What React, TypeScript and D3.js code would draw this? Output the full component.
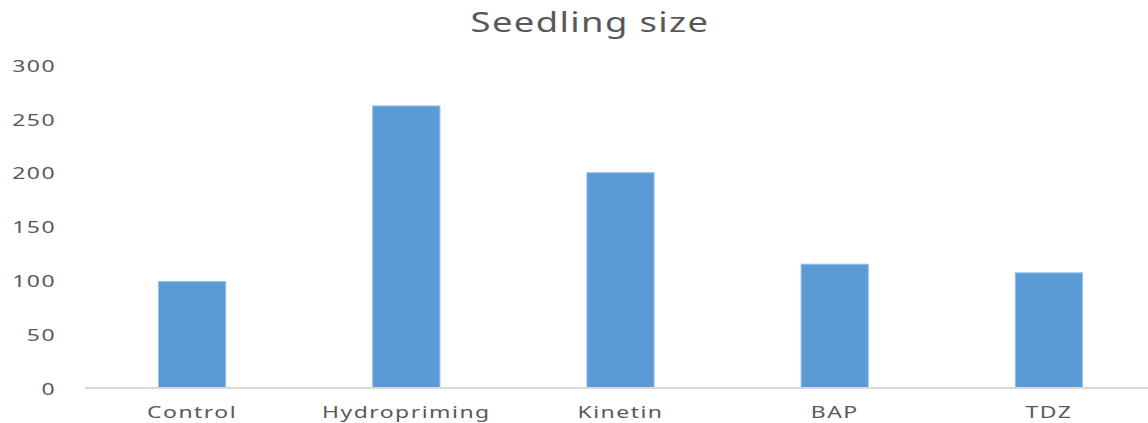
import React from "react";
import * as d3 from "d3";

const categories = ["Control", "Hydropriming", "Kinetin", "BAP", "TDZ"];
const values = [99, 262, 200, 115, 107];
const yTicks = [0, 50, 100, 150, 200, 250, 300];
const title = "Seedling size";

const W = 1148;
const H = 423;
const FONT = "'Noto Sans', sans-serif";
const TEXT = "#595959";
const STRETCH = 1.35;

export default function App() {
  const x = d3
    .scaleBand<string>()
    .domain(categories)
    .range([85, 1156])
    .paddingInner(0.686)
    .paddingOuter(0.343);
  const y = d3.scaleLinear().domain([0, 300]).range([388, 65]);

  return (
    <svg
      width={W}
      height={H}
      style={{ position: "absolute", left: 0, top: 0, background: "#fff" }}
    >
      <text
        transform={`translate(590,32) scale(${STRETCH},1)`}
        textAnchor="middle"
        fontFamily={FONT}
        fontSize={27}
        letterSpacing={1}
        fill={TEXT}
      >
        {title}
      </text>

      {yTicks.map((t) => (
        <text
          key={t}
          transform={`translate(56,${y(t)}) scale(${STRETCH},1)`}
          textAnchor="end"
          dominantBaseline="central"
          fontFamily={FONT}
          fontSize={17}
          letterSpacing={1.1}
          fill={TEXT}
        >
          {t}
        </text>
      ))}

      {categories.map((c, i) => (
        <rect
          key={c}
          x={x(c)}
          y={y(values[i])}
          width={x.bandwidth()}
          height={y(0) - y(values[i])}
          fill="#5B9BD5"
          stroke="#9DC3E6"
          strokeWidth={1}
        />
      ))}

      <line x1={85} x2={W} y1={y(0)} y2={y(0)} stroke="#D9D9D9" strokeWidth={2} />

      {categories.map((c) => (
        <text
          key={c}
          transform={`translate(${(x(c) ?? 0) + x.bandwidth() / 2},418) scale(${STRETCH},1)`}
          textAnchor="middle"
          fontFamily={FONT}
          fontSize={17}
          letterSpacing={1.1}
          fill={TEXT}
        >
          {c}
        </text>
      ))}
    </svg>
  );
}
